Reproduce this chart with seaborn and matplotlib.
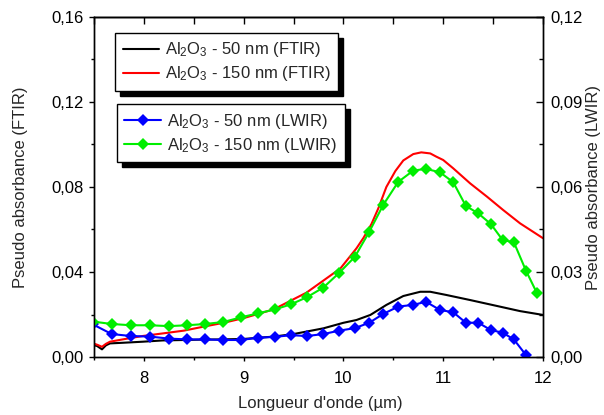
import numpy as np
import pandas as pd
import matplotlib
matplotlib.use("Agg")
import matplotlib.pyplot as plt
import seaborn as sns
from matplotlib.ticker import MultipleLocator, FuncFormatter

# ---------------- data ----------------
ftir_150_x = [7.49, 7.53, 7.58, 7.62, 7.66, 7.79, 7.99, 8.19, 8.40, 8.60, 8.80, 9.00,
              9.30, 9.63, 9.97, 10.13, 10.20, 10.28, 10.35, 10.43, 10.52, 10.60, 10.70,
              10.78, 10.87, 10.93, 11.00, 11.10, 11.27, 11.44, 11.60, 11.77, 12.00]
ftir_150_y = [0.0064, 0.0058, 0.0048, 0.0062, 0.0072, 0.0083, 0.0099, 0.0111, 0.0124,
              0.0143, 0.0161, 0.0183, 0.0224, 0.0303, 0.0417, 0.0511, 0.0560, 0.0625,
              0.0700, 0.0800, 0.0875, 0.0925, 0.0955, 0.0963, 0.0958, 0.0943, 0.0927,
              0.0888, 0.0817, 0.0754, 0.0692, 0.0629, 0.0559]

ftir_50_x = [7.49, 7.53, 7.58, 7.62, 7.66, 7.79, 7.99, 8.19, 8.40, 8.60, 8.80, 9.00,
             9.30, 9.50, 9.80, 10.00, 10.13, 10.27, 10.43, 10.60, 10.77, 10.87, 11.03,
             11.27, 11.54, 11.77, 12.00]
ftir_50_y = [0.0056, 0.0052, 0.0036, 0.0055, 0.0064, 0.0067, 0.0072, 0.0078, 0.0080,
             0.0082, 0.0083, 0.0085, 0.0096, 0.0108, 0.0135, 0.0161, 0.0174, 0.0198,
             0.0245, 0.0287, 0.0307, 0.0307, 0.0292, 0.0268, 0.0240, 0.0216, 0.0198]

lwir_x = [7.49, 7.677, 7.871, 8.061, 8.249, 8.435, 8.615, 8.796, 8.973, 9.143, 9.314,
          9.474, 9.634, 9.798, 9.958, 10.115, 10.259, 10.399, 10.549, 10.70, 10.827,
          10.967, 11.10, 11.227, 11.351, 11.478, 11.595, 11.708, 11.829, 11.94]
lwir_150_y = [0.0125, 0.01165, 0.0112, 0.0112, 0.0109, 0.0112, 0.01165, 0.01235, 0.0140,
              0.0154, 0.0168, 0.0186, 0.0211, 0.0245, 0.0297, 0.0354, 0.0442, 0.0537,
              0.0618, 0.0658, 0.0664, 0.0652, 0.0617, 0.0533, 0.0507, 0.0469, 0.0413,
              0.0405, 0.0305, 0.0225]
lwir_50_y = [0.0115, 0.0081, 0.0074, 0.0072, 0.0065, 0.0062, 0.0062, 0.0060, 0.0060,
             0.0068, 0.0071, 0.0077, 0.0074, 0.0081, 0.0093, 0.0102, 0.0121, 0.0152,
             0.0178, 0.0184, 0.0195, 0.0166, 0.0158, 0.0121, 0.0121, 0.0095, 0.0086,
             0.0062, 0.0007, np.nan]

labels_ftir = [r"Al$_2$O$_3$ - 50 nm (FTIR)", r"Al$_2$O$_3$ - 150 nm (FTIR)"]
labels_lwir = [r"Al$_2$O$_3$ - 50 nm (LWIR)", r"Al$_2$O$_3$ - 150 nm (LWIR)"]
xlabel = "Longueur d'onde (µm)"
ylabel_left = "Pseudo absorbance (FTIR)"
ylabel_right = "Pseudo absorbance (LWIR)"

# ---------------- style ----------------
sns.set_style("ticks")
plt.rcParams["font.family"] = ["Liberation Sans", "DejaVu Sans"]
plt.rcParams["mathtext.fontset"] = "custom"
plt.rcParams["mathtext.rm"] = "Liberation Sans"
plt.rcParams["mathtext.it"] = "Liberation Sans:italic"
plt.rcParams["mathtext.default"] = "regular"
plt.rcParams["font.size"] = 12
plt.rcParams["axes.edgecolor"] = "black"
plt.rcParams["axes.linewidth"] = 1.0
plt.rcParams["xtick.color"] = "black"
plt.rcParams["ytick.color"] = "black"

fig = plt.figure(figsize=(6.04, 4.15), dpi=100)
fig.patch.set_facecolor("white")
ax = fig.add_axes([94 / 604, 1 - 357 / 415, 449 / 604, 340 / 415])
ax2 = ax.twinx()

df_f50 = pd.DataFrame({"x": ftir_50_x, "y": ftir_50_y})
df_f150 = pd.DataFrame({"x": ftir_150_x, "y": ftir_150_y})
df_l = pd.DataFrame({"x": lwir_x, "y50": lwir_50_y, "y150": lwir_150_y})

sns.lineplot(data=df_f50, x="x", y="y", ax=ax, color="black", lw=1.5,
             sort=False, estimator=None, label=labels_ftir[0])
sns.lineplot(data=df_f150, x="x", y="y", ax=ax, color="#ff0000", lw=1.5,
             sort=False, estimator=None, label=labels_ftir[1])
sns.lineplot(data=df_l.dropna(), x="x", y="y50", ax=ax2, color="#0000ff", lw=1.5,
             marker="D", markersize=6.5, markeredgewidth=0, sort=False,
             estimator=None, label=labels_lwir[0])
sns.lineplot(data=df_l, x="x", y="y150", ax=ax2, color="#00ee00", lw=1.5,
             marker="D", markersize=6.5, markeredgewidth=0, sort=False,
             estimator=None, label=labels_lwir[1])

ax.set_xlim(7.5, 12)
ax.set_ylim(0, 0.16)
ax2.set_ylim(0, 0.12)
for a in (ax, ax2):
    for ln in a.get_lines():
        ln.set_clip_on(True)

comma = FuncFormatter(lambda v, p: f"{v:.2f}".replace(".", ","))
ax.xaxis.set_major_locator(MultipleLocator(1))
ax.xaxis.set_minor_locator(MultipleLocator(0.5))
ax.xaxis.set_major_formatter(FuncFormatter(lambda v, p: f"{v:g}"))
ax.yaxis.set_major_locator(MultipleLocator(0.04))
ax.yaxis.set_minor_locator(MultipleLocator(0.02))
ax.yaxis.set_major_formatter(comma)
ax2.yaxis.set_major_locator(MultipleLocator(0.03))
ax2.yaxis.set_minor_locator(MultipleLocator(0.015))
ax2.yaxis.set_major_formatter(comma)

ax.tick_params(axis="x", which="major", direction="out", length=3, width=1, pad=7, labelsize=12)
ax.tick_params(axis="x", which="minor", direction="out", length=2.5, width=1)
ax.tick_params(axis="y", which="major", direction="out", length=3.6, width=1, pad=4, labelsize=12)
ax.tick_params(axis="y", which="minor", direction="out", length=2.5, width=1)
ax2.tick_params(axis="y", which="major", direction="in", length=5, width=1, pad=5, labelsize=12)
ax2.tick_params(axis="y", which="minor", direction="in", length=3, width=1)

top = ax.secondary_xaxis("top")
top.xaxis.set_major_locator(MultipleLocator(0.5))
top.tick_params(direction="in", length=5, width=1, labeltop=False)
top.spines["top"].set_linewidth(1.0)

ax.set_xlabel(xlabel, fontsize=12)
ax.set_ylabel(ylabel_left, fontsize=12)
ax2.set_ylabel(ylabel_right, fontsize=12)
ax.xaxis.set_label_coords(0.503, -0.115)
ax.yaxis.set_label_coords(-0.147, 0.5)
ax2.yaxis.set_label_coords(1.096, 0.5)

shadow = {"ox": 3.6, "oy": -3.6, "color": "black", "alpha": 1}
h1, l1 = ax.get_legend_handles_labels()
leg1 = ax.legend(h1, l1, loc="upper left", bbox_to_anchor=(0.047, 0.953),
                 bbox_transform=ax.transAxes, borderaxespad=0, frameon=True,
                 fancybox=False, edgecolor="black", framealpha=1, fontsize=12,
                 handlelength=2.2, handletextpad=0.35, borderpad=0.45,
                 labelspacing=0.3, shadow=shadow)
leg1.get_frame().set_linewidth(1.0)
h2, l2 = ax2.get_legend_handles_labels()
leg2 = ax2.legend(h2, l2, loc="upper left", bbox_to_anchor=(0.051, 0.743),
                  bbox_transform=ax.transAxes, borderaxespad=0, frameon=True,
                  fancybox=False, edgecolor="black", framealpha=1, fontsize=12,
                  handlelength=2.2, handletextpad=0.35, borderpad=0.45,
                  labelspacing=0.3, shadow=shadow)
leg2.get_frame().set_linewidth(1.0)

fig.savefig("out.png", dpi=100, facecolor="white")
